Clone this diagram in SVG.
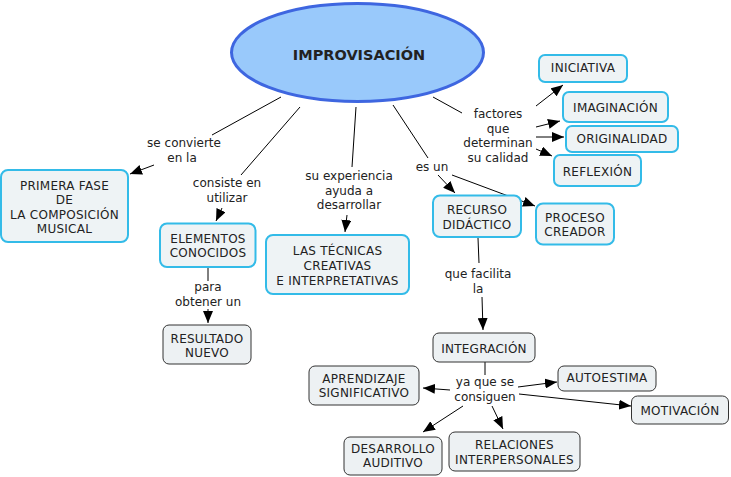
<svg xmlns="http://www.w3.org/2000/svg" width="731" height="477" viewBox="0 0 731 477">
<style>
text{font-family:"DejaVu Sans","Verdana",sans-serif;font-size:12px;fill:#222;text-anchor:middle}
g[id] rect + text, g[id] rect ~ text{letter-spacing:0.25px}
.c{fill:#eef3f5;stroke:#33bbe8;stroke-width:2}
.d{fill:#edf1f3;stroke:#333;stroke-width:1}
.l{stroke:#000;stroke-width:1;fill:none}
.a{stroke:#000;stroke-width:1;fill:none;marker-end:url(#ah)}
.t{font-weight:bold;font-size:14.5px}
</style>
<defs>
<marker id="ah" viewBox="0 0 12 10" refX="12" refY="5" markerWidth="12" markerHeight="10" markerUnits="userSpaceOnUse" orient="auto"><path d="M0,0 L12,5 L0,10 z" fill="#000"/></marker>
</defs>
<rect width="731" height="477" fill="#fff"/>
<g id="connectors">
<line class="l" x1="281" y1="97" x2="212" y2="135"/>
<line class="a" x1="154" y1="165" x2="130" y2="174"/>
<line class="l" x1="300" y1="107" x2="241" y2="175"/>
<line class="a" x1="222" y1="208" x2="216" y2="221"/>
<line class="l" x1="356" y1="107" x2="352" y2="167"/>
<line class="a" x1="347" y1="215" x2="345" y2="232"/>
<line class="l" x1="393" y1="105" x2="428" y2="158"/>
<line class="a" x1="438" y1="175" x2="455" y2="193"/>
<line class="a" x1="452" y1="175" x2="535" y2="206"/>
<line class="l" x1="433" y1="97" x2="462" y2="113"/>
<line class="a" x1="536" y1="106" x2="563" y2="85"/>
<line class="a" x1="536" y1="127" x2="560" y2="121"/>
<line class="a" x1="536" y1="137" x2="564" y2="137"/>
<line class="a" x1="536" y1="149" x2="552" y2="156"/>
<line class="l" x1="478" y1="238" x2="479" y2="263"/>
<line class="a" x1="482" y1="297" x2="483" y2="330"/>
<line class="l" x1="208" y1="268" x2="208" y2="281"/>
<line class="a" x1="208" y1="309" x2="208" y2="323"/>
<line class="l" x1="485" y1="362" x2="485" y2="375"/>
<line class="a" x1="450" y1="390" x2="423" y2="388"/>
<line class="a" x1="518" y1="387" x2="557" y2="382"/>
<line class="a" x1="519" y1="394" x2="631" y2="406"/>
<line class="a" x1="463" y1="406" x2="423" y2="432"/>
<line class="a" x1="492" y1="406" x2="503" y2="429"/>
</g>
<g id="labels">
<text x="184" y="147">se convierte</text><text x="182" y="161.5">en la</text>
<text x="227" y="187">consiste en</text><text x="227" y="201.5">utilizar</text>
<text x="349" y="180">su experiencia</text><text x="349" y="194.5">ayuda a</text><text x="349" y="209">desarrollar</text>
<text x="432" y="171">es un</text>
<text x="498" y="118">factores</text><text x="498" y="132.5">que</text><text x="498" y="147">determinan</text><text x="498" y="161.5">su calidad</text>
<text x="478" y="278">que facilita</text><text x="478" y="292.5">la</text>
<text x="208" y="291">para</text><text x="208" y="305.5">obtener un</text>
<text x="485" y="386">ya que se</text><text x="485" y="400.5">consiguen</text>
</g>
<g id="improvisacion">
<ellipse cx="357.5" cy="52.5" rx="126" ry="49" fill="#99c9fb" stroke="#3e66e0" stroke-width="3"/>
<text class="t" x="359" y="59.5">IMPROVISACIÓN</text>
</g>
<g id="iniciativa"><rect class="c" x="539" y="55" width="88" height="27" rx="6"/><text x="583" y="72">INICIATIVA</text></g>
<g id="imaginacion"><rect class="c" x="563" y="92" width="105" height="30" rx="6"/><text x="615.5" y="112">IMAGINACIÓN</text></g>
<g id="originalidad"><rect class="c" x="566" y="126" width="112" height="26" rx="6"/><text x="622" y="142.5">ORIGINALIDAD</text></g>
<g id="reflexion"><rect class="c" x="554" y="155" width="87" height="31" rx="6"/><text x="597.5" y="176">REFLEXIÓN</text></g>
<g id="primera-fase"><rect class="c" x="1" y="170" width="127" height="72" rx="7"/><text x="64.5" y="189.5">PRIMERA FASE</text><text x="64.5" y="204">DE</text><text x="64.5" y="218.5">LA COMPOSICIÓN</text><text x="64.5" y="233">MUSICAL</text></g>
<g id="elementos"><rect class="c" x="160" y="223.5" width="95.5" height="43.5" rx="7"/><text x="208" y="242.5">ELEMENTOS</text><text x="208" y="257">CONOCIDOS</text></g>
<g id="tecnicas"><rect class="c" x="266" y="235" width="143" height="59" rx="7"/><text x="337.5" y="255">LAS TÉCNICAS</text><text x="337.5" y="270">CREATIVAS</text><text x="337.5" y="285">E INTERPRETATIVAS</text></g>
<g id="recurso"><rect class="c" x="433" y="195.5" width="88" height="41.5" rx="7"/><text x="477" y="214">RECURSO</text><text x="477" y="228.5">DIDÁCTICO</text></g>
<g id="proceso"><rect class="c" x="536" y="203.5" width="78" height="41" rx="7"/><text x="575" y="221.5">PROCESO</text><text x="575" y="236">CREADOR</text></g>
<g id="resultado"><rect class="d" x="163" y="325" width="88" height="39" rx="6"/><text x="207" y="343">RESULTADO</text><text x="207" y="357">NUEVO</text></g>
<g id="integracion"><rect class="d" x="433" y="333" width="102" height="29" rx="6"/><text x="484" y="353">INTEGRACIÓN</text></g>
<g id="aprendizaje"><rect class="d" x="309" y="366" width="110" height="39" rx="6"/><text x="364" y="383">APRENDIZAJE</text><text x="364" y="397">SIGNIFICATIVO</text></g>
<g id="autoestima"><rect class="d" x="558" y="366" width="98" height="25" rx="6"/><text x="607" y="381.5">AUTOESTIMA</text></g>
<g id="motivacion"><rect class="d" x="631.5" y="396" width="97" height="28" rx="6"/><text x="680" y="415">MOTIVACIÓN</text></g>
<g id="desarrollo"><rect class="d" x="344" y="437" width="98" height="38" rx="6"/><text x="393" y="452.5">DESARROLLO</text><text x="393" y="466.5">AUDITIVO</text></g>
<g id="relaciones"><rect class="d" x="449" y="432" width="131" height="39" rx="6"/><text x="514.5" y="449">RELACIONES</text><text x="514.5" y="463.5">INTERPERSONALES</text></g>
</svg>
